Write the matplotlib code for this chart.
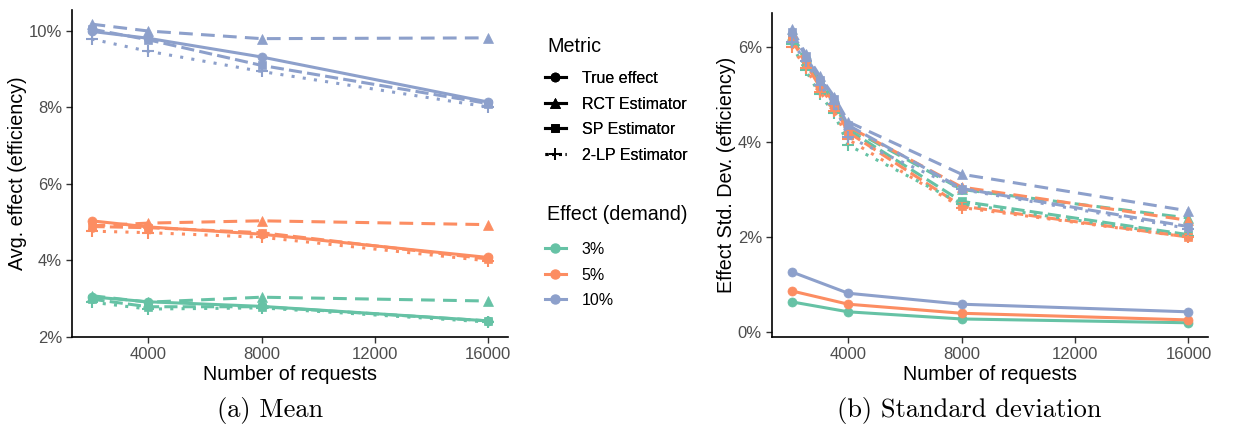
import matplotlib
matplotlib.use("Agg")
import matplotlib.pyplot as plt
from matplotlib.lines import Line2D
from matplotlib.ticker import FuncFormatter

plt.rcParams['font.family'] = ['Liberation Sans', 'DejaVu Sans']

# ---------------- data ----------------
effects = ["3%", "5%", "10%"]
colors = {"3%": "#66C2A5", "5%": "#FC8D62", "10%": "#8DA0CB"}
metrics = ["True effect", "RCT Estimator", "SP Estimator", "2-LP Estimator"]

# Mean panel
x_mean = [2000, 4000, 8000, 16000]
mean_true = {"3%": [3.04, 2.91, 2.79, 2.41],
             "5%": [5.03, 4.87, 4.68, 4.07],
             "10%": [9.99, 9.81, 9.32, 8.14]}
mean_rct = {"3%": [3.07, 2.90, 3.03, 2.93],
            "5%": [4.90, 4.97, 5.03, 4.93],
            "10%": [10.18, 10.00, 9.80, 9.82]}
mean_sp = {"3%": [2.98, 2.78, 2.78, 2.41],
           "5%": [4.88, 4.85, 4.72, 4.03],
           "10%": [10.05, 9.77, 9.10, 8.10]}
mean_2lp = {"3%": [2.90, 2.72, 2.75, 2.38],
            "5%": [4.76, 4.72, 4.60, 3.98],
            "10%": [9.79, 9.47, 8.94, 8.01]}

# Std dev panel
x_sd_true = [2000, 4000, 8000, 16000]
sd_true = {"3%": [0.64, 0.43, 0.28, 0.20],
           "5%": [0.87, 0.59, 0.40, 0.26],
           "10%": [1.27, 0.82, 0.59, 0.43]}
x_sd_est = [2000, 2500, 3000, 3500, 4000, 8000, 16000]
sd_rct = {"3%": [6.25, 5.78, 5.28, 4.86, 4.30, 3.00, 2.40],
          "5%": [6.18, 5.72, 5.22, 4.82, 4.32, 3.05, 2.35],
          "10%": [6.38, 5.85, 5.38, 4.95, 4.42, 3.32, 2.55]}
sd_sp = {"3%": [6.20, 5.70, 5.20, 4.80, 4.25, 2.75, 2.05],
         "5%": [6.15, 5.65, 5.15, 4.75, 4.20, 2.65, 2.00],
         "10%": [6.30, 5.80, 5.30, 4.90, 4.35, 3.02, 2.22]}
sd_2lp = {"3%": [6.05, 5.50, 5.00, 4.60, 3.93, 2.70, 2.02],
          "5%": [6.00, 5.55, 5.05, 4.65, 4.05, 2.62, 2.00],
          "10%": [6.10, 5.70, 5.20, 4.80, 4.10, 3.00, 2.18]}

x_ticks = [4000, 8000, 12000, 16000]

# ---------------- styles ----------------
styles = {
    "True effect": dict(ls="-", marker="o", ms=6.5),
    "RCT Estimator": dict(ls=(0, (4.5, 2.7)), marker="^", ms=7),
    "SP Estimator": dict(ls=(0, (4.3, 1.7)), marker="s", ms=6),
    "2-LP Estimator": dict(ls=(0, (1, 2.7)), marker="+", ms=9),
}
LW = 2.2

fig = plt.figure(figsize=(12.36, 4.38), dpi=100)
axL = fig.add_axes([71.7 / 1236, 1 - 337.3 / 438, (508 - 71.7) / 1236, (337.3 - 10) / 438])
axR = fig.add_axes([771.7 / 1236, 1 - 337.3 / 438, (1208.3 - 771.7) / 1236, (337.3 - 13.3) / 438])


def draw(ax, x, data, metric):
    st = styles[metric]
    for e in effects:
        ax.plot(x, data[e], color=colors[e], lw=LW, ls=st["ls"], marker=st["marker"],
                ms=st["ms"], mew=1.5 if st["marker"] == "+" else 0.5,
                mec=colors[e], solid_capstyle="butt")


draw(axL, x_mean, mean_true, "True effect")
draw(axL, x_mean, mean_rct, "RCT Estimator")
draw(axL, x_mean, mean_sp, "SP Estimator")
draw(axL, x_mean, mean_2lp, "2-LP Estimator")

draw(axR, x_sd_true, sd_true, "True effect")
draw(axR, x_sd_est, sd_rct, "RCT Estimator")
draw(axR, x_sd_est, sd_sp, "SP Estimator")
draw(axR, x_sd_est, sd_2lp, "2-LP Estimator")

pct = FuncFormatter(lambda v, p: f"{v:.0f}%")
for ax in (axL, axR):
    ax.set_xlim(1300, 16700)
    ax.set_xticks(x_ticks)
    ax.yaxis.set_major_formatter(pct)
    for s in ("top", "right"):
        ax.spines[s].set_visible(False)
    for s in ("left", "bottom"):
        ax.spines[s].set_linewidth(1.2)
        ax.spines[s].set_color("black")
    ax.tick_params(axis="both", direction="out", length=4, width=1.0, color="#333333",
                   labelsize=12, labelcolor="#4D4D4D", pad=3)
    ax.set_xlabel("Number of requests", fontsize=14.2, labelpad=2)

axL.set_ylim(1.98, 10.55)
axL.set_yticks([2, 4, 6, 8, 10])
axL.set_ylabel("Avg. effect (efficiency)", fontsize=14.2, labelpad=1)

axR.set_ylim(-0.105, 6.7)
axR.set_yticks([0, 2, 4, 6])
axR.set_ylabel("Effect Std. Dev. (efficiency)", fontsize=14.2, labelpad=1)

# ---------------- legends ----------------
metric_handles = [Line2D([], [], color="black", lw=LW, ls="-" if m != "2-LP Estimator" else (0, (1, 1.2)),
                         marker=styles[m]["marker"], ms=styles[m]["ms"],
                         mew=1.2 if styles[m]["marker"] == "+" else 0.5)
                  for m in metrics]
effect_handles = [Line2D([], [], color=colors[e], lw=LW, marker="o", ms=6.5) for e in effects]

leg_kw = dict(loc="upper left", frameon=False, fontsize=11.5, handlelength=1.3,
              handletextpad=1.0, labelspacing=0.66, borderaxespad=0, borderpad=0)
fig.text(547 / 1236, 1 - 47 / 438, "Metric", fontsize=14.2, ha="left", va="center")
leg1 = fig.legend(metric_handles, metrics, bbox_to_anchor=(545 / 1236, 1 - 71 / 438), **leg_kw)
fig.text(547 / 1236, 1 - 215 / 438, "Effect (demand)", fontsize=14.2, ha="left", va="center")
leg2 = fig.legend(effect_handles, effects, bbox_to_anchor=(545 / 1236, 1 - 242 / 438), **leg_kw)
fig.add_artist(leg1)

# ---------------- captions ----------------
fig.text(270 / 1236, 1 - 410 / 438, "(a) Mean", ha="center", va="center",
         family=["cmr10", "DejaVu Serif"], fontsize=19)
fig.text(969 / 1236, 1 - 410 / 438, "(b) Standard deviation", ha="center", va="center",
         family=["cmr10", "DejaVu Serif"], fontsize=19)

fig.savefig("out.png", dpi=100)
